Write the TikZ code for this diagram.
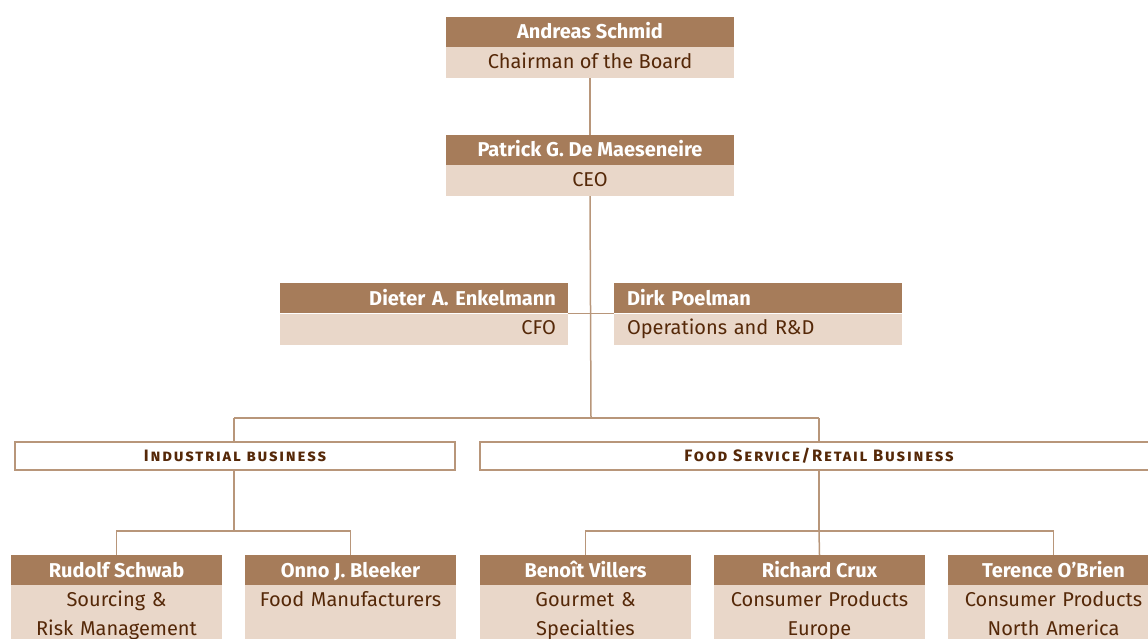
\documentclass[tikz,border=0pt]{standalone}
\usepackage{fontspec}
\setmainfont{Fira Sans}
\definecolor{hdr}{HTML}{A67C5A}
\definecolor{bdy}{HTML}{E9D7C9}
\definecolor{txt}{HTML}{552808}
\definecolor{ln}{HTML}{B8967A}
\tikzset{
  hd/.style={fill=hdr, text=white, font=\bfseries\fontsize{20}{22}\selectfont,
    minimum height=30, inner sep=0, text height=15, text depth=1},
  bd/.style={fill=bdy, text=txt, font=\fontsize{20}{22}\selectfont,
    minimum height=31, inner sep=0, text height=14.5, text depth=3},
  lowbd/.style={fill=bdy, text=txt, font=\fontsize{20}{29}\selectfont,
    anchor=north, inner xsep=0, inner ysep=0, align=center, text width=211},
  sctext/.style={text=txt, text height=11.5, text depth=1,
    font=\bfseries\scshape\fontsize{16.5}{18}\selectfont\addfontfeature{LetterSpace=11}},
  bar/.style={draw=ln, line width=1.2, fill=white, minimum height=28, sctext},
  conn/.style={draw=ln, line width=1.5}
}
\begin{document}
\begin{tikzpicture}[x=1pt,y=-1pt]
\useasboundingbox (0,0) rectangle (1148,639);
\clip (0,0) rectangle (1148,639);
\coordinate (j1) at (591,418);
\coordinate (jl) at (234,418);
\coordinate (jr) at (819,418);
\coordinate (k1) at (234,531);
\coordinate (k2) at (819,531);
% top
\node[hd, minimum width=288] (ch) at (590,32) {Andreas Schmid};
\node[bd, minimum width=288] (chb) at (590,62.5) {Chairman of the Board};
\node[hd, minimum width=288] (ceo) at (590,150) {Patrick G. De Maeseneire};
\node[bd, minimum width=288] (ceob) at (590,180.5) {CEO};
% CFO and operations
\node[hd, minimum width=288, text width=264, align=right, inner xsep=12] (cfo) at (424,298) {Dieter A. Enkelmann};
\node[bd, minimum width=288, text width=264, align=right, inner xsep=12] (cfob) at (424,329) {CFO};
\node[hd, minimum width=288, text width=262, align=left, inner xsep=13] (ops) at (758,298) {Dirk Poelman};
\node[bd, minimum width=288, text width=262, align=left, inner xsep=13] (opsb) at (758,329) {Operations and R\&D};
\draw[conn] (chb.south) -- (ceo.north);
\draw[conn] (ceob.south) -- (j1);
\draw[conn] (cfob.north east) -- (opsb.north west);
\draw[conn] (jl) -- (jr);
% business bars
\node[bar, minimum width=440] (ind) at (235,456) {Industrial business};
\node[bar, minimum width=690] (food) at (825,456) {};
\node[sctext] (foodt) at (819,456) {Food Service/Retail Business};
\draw[conn] (jl) -- (ind.north -| jl);
\draw[conn] (jr) -- (food.north -| jr);
\draw[conn] (ind.south -| jl) -- (k1);
\draw[conn] (food.south -| jr) -- (k2);
% bottom boxes
\node[hd, minimum width=211] (rs) at (116.5,570) {Rudolf Schwab};
\node[lowbd] (rsb) at (116.5,585) {\rule{0pt}{21pt}Sourcing \&\\Risk Management\rule[-12pt]{0pt}{12pt}};
\node[hd, minimum width=211] (ob) at (350.5,570) {Onno J. Bleeker};
\node[lowbd] (obb) at (350.5,585) {\rule{0pt}{21pt}Food Manufacturers\rule[-41pt]{0pt}{41pt}};
\node[hd, minimum width=211] (bv) at (585.5,570) {Benoît Villers};
\node[lowbd] (bvb) at (585.5,585) {\rule{0pt}{21pt}Gourmet \&\\Specialties\rule[-12pt]{0pt}{12pt}};
\node[hd, minimum width=211] (rc) at (819.5,570) {Richard Crux};
\node[lowbd] (rcb) at (819.5,585) {\rule{0pt}{21pt}Consumer Products\\Europe\rule[-12pt]{0pt}{12pt}};
\node[hd, minimum width=211] (to) at (1053.5,570) {Terence O’Brien};
\node[lowbd] (tob) at (1053.5,585) {\rule{0pt}{21pt}Consumer Products\\North America\rule[-12pt]{0pt}{12pt}};
\draw[conn] (rs.north) |- (k1) -| (ob.north);
\draw[conn] (bv.north) |- (k2) -| (to.north);
\draw[conn] (k2) -- (rc.north);
\end{tikzpicture}
\end{document}
